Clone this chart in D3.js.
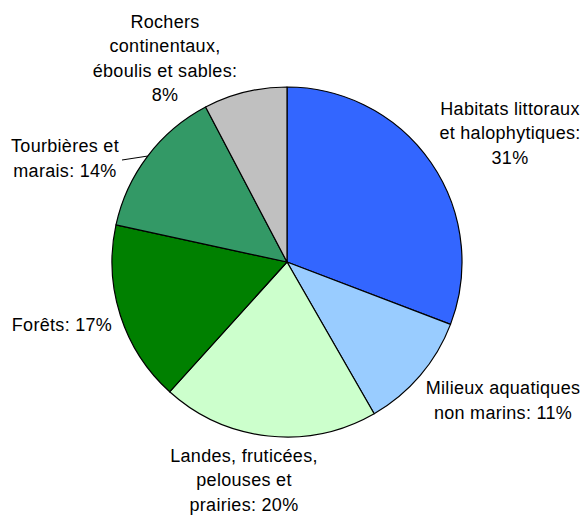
<!DOCTYPE html>
<html>
<head>
<meta charset="utf-8">
<script src="https://cdn.jsdelivr.net/npm/d3@7"></script>
<style>
  body { margin: 0; background: #fff; }
  svg text { font-family: "Liberation Sans", Arial, sans-serif; font-size: 18px; letter-spacing: 0.3px; fill: #000; }
</style>
</head>
<body>
<div id="chart"></div>
<script>
// Data
const categories = [
  "Habitats littoraux et halophytiques",
  "Milieux aquatiques non marins",
  "Landes, fruticées, pelouses et prairies",
  "Forêts",
  "Tourbières et marais",
  "Rochers continentaux, éboulis et sables"
];
const values = [30.8, 10.9, 20.0, 16.7, 13.9, 7.7];
const percentLabels = ["31%", "11%", "20%", "17%", "14%", "8%"];
const colors = ["#3366FF", "#99CCFF", "#CCFFCC", "#008000", "#339966", "#C0C0C0"];

// Label lines as wrapped in the chart
const labelLines = [
  ["Habitats littoraux", "et halophytiques:", "31%"],
  ["Milieux aquatiques", "non marins: 11%"],
  ["Landes, fruticées,", "pelouses et", "prairies: 20%"],
  ["Forêts: 17%"],
  ["Tourbières et", "marais: 14%"],
  ["Rochers", "continentaux,", "éboulis et sables:", "8%"]
];
// Label centre positions (layout)
const labelPos = [
  [510, 133], [503, 400], [244, 480], [62, 325], [65, 158], [165, 58]
];

const width = 584, height = 515;
const cx = 287, cy = 262, radius = 175;
const lineH = 24.5;

const svg = d3.select("#chart")
  .append("svg")
  .attr("width", width)
  .attr("height", height);

const g = svg.append("g")
  .attr("transform", `translate(${cx}, ${cy})`);

const pie = d3.pie().sort(null).value(d => d);
const arcs = pie(values);

const arc = d3.arc().innerRadius(0).outerRadius(radius);

g.selectAll("path.slice")
  .data(arcs)
  .enter()
  .append("path")
  .attr("class", "slice")
  .attr("d", arc)
  .attr("fill", (d, i) => colors[i])
  .attr("stroke", "#000")
  .attr("stroke-width", 1.2)
  .attr("stroke-linejoin", "round");

// Leader line for the Tourbières label
const tb = arcs[4];
const mid = (tb.startAngle + tb.endAngle) / 2;
const ex = radius * Math.sin(mid), ey = -radius * Math.cos(mid);
g.append("line")
  .attr("x1", ex).attr("y1", ey)
  .attr("x2", 122 - cx).attr("y2", 160 - cy)
  .attr("stroke", "#000")
  .attr("stroke-width", 1);

// Labels
const labels = svg.selectAll("text.label")
  .data(labelLines)
  .enter()
  .append("text")
  .attr("class", "label")
  .attr("text-anchor", "middle")
  .attr("x", (d, i) => labelPos[i][0])
  .attr("y", (d, i) => labelPos[i][1]);

labels.each(function(lines, i) {
  const t = d3.select(this);
  const y0 = labelPos[i][1] - (lines.length - 1) * lineH / 2;
  lines.forEach((line, j) => {
    t.append("tspan")
      .attr("x", labelPos[i][0])
      .attr("y", y0 + j * lineH)
      .attr("dy", "0.35em")
      .text(line);
  });
});
</script>
</body>
</html>
